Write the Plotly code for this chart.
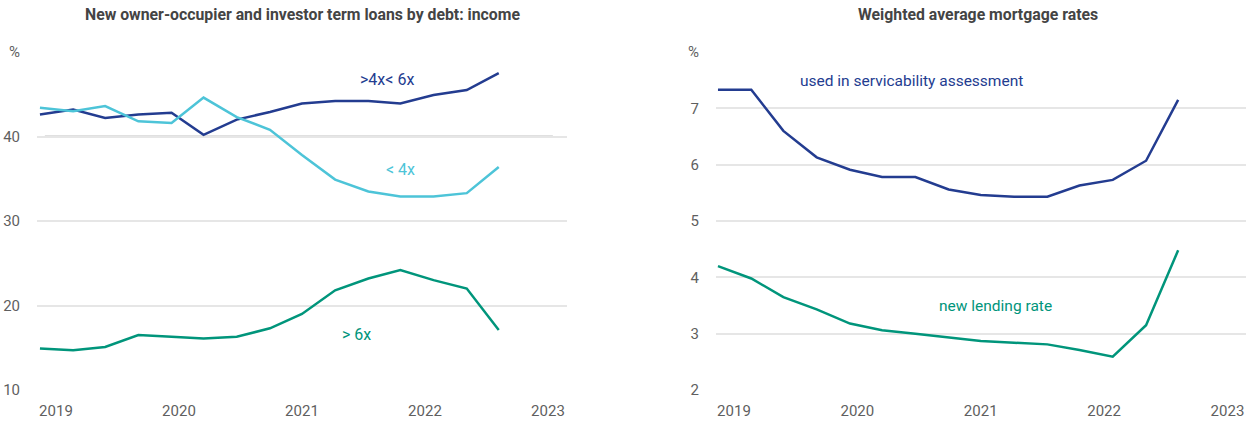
import plotly.graph_objects as go

# ---- data ----
periods = [2019.00, 2019.27, 2019.53, 2019.80, 2020.07, 2020.33, 2020.60, 2020.87,
           2021.13, 2021.40, 2021.67, 2021.93, 2022.20, 2022.47, 2022.73]

dti_4_6 = [42.6, 43.2, 42.2, 42.6, 42.8, 40.2, 42.0, 42.9, 43.9, 44.2, 44.2, 43.9, 44.9, 45.5, 47.5]
dti_lt4 = [43.4, 43.0, 43.6, 41.8, 41.6, 44.6, 42.3, 40.8, 37.8, 34.9, 33.5, 32.9, 32.9, 33.3, 36.4]
dti_gt6 = [14.9, 14.7, 15.1, 16.5, 16.3, 16.1, 16.3, 17.3, 19.0, 21.8, 23.2, 24.2, 23.0, 22.0, 17.1]

rate_serv = [7.33, 7.33, 6.60, 6.13, 5.91, 5.78, 5.78, 5.56, 5.46, 5.43, 5.43, 5.63, 5.73, 6.07, 7.15]
rate_new = [4.20, 3.98, 3.65, 3.43, 3.18, 3.06, 3.00, 2.93, 2.87, 2.84, 2.81, 2.71, 2.59, 3.15, 4.48]

years = [2019, 2020, 2021, 2022, 2023]
left_ticks = [10, 20, 30, 40, 50]
left_tick_text = ["10", "20", "30", "40", "%"]
right_ticks = [2, 3, 4, 5, 6, 7, 8]
right_tick_text = ["2", "3", "4", "5", "6", "7", "%"]

title_left = "New owner-occupier and investor term loans by debt: income"
title_right = "Weighted average mortgage rates"

# ---- style ----
DARK = "#233c90"
CYAN = "#4dc4d8"
TEAL = "#00957b"
GRID = "#e6e6e6"
TXT = "#5f5f5f"
FONT = "Liberation Sans Narrow, Arial Narrow, Roboto, sans-serif"
W, H = 1250, 421

fig = go.Figure()
fig.add_trace(go.Scatter(x=periods, y=dti_4_6, mode="lines", line=dict(color=DARK, width=2.5),
                         xaxis="x", yaxis="y", showlegend=False))
fig.add_trace(go.Scatter(x=periods, y=dti_lt4, mode="lines", line=dict(color=CYAN, width=2.5),
                         xaxis="x", yaxis="y", showlegend=False))
fig.add_trace(go.Scatter(x=periods, y=dti_gt6, mode="lines", line=dict(color=TEAL, width=2.5),
                         xaxis="x", yaxis="y", showlegend=False))
fig.add_trace(go.Scatter(x=periods, y=rate_serv, mode="lines", line=dict(color=DARK, width=2.5),
                         xaxis="x2", yaxis="y2", showlegend=False))
fig.add_trace(go.Scatter(x=periods, y=rate_new, mode="lines", line=dict(color=TEAL, width=2.5),
                         xaxis="x2", yaxis="y2", showlegend=False))

xcommon = dict(tickvals=years, ticktext=[str(y) for y in years], showgrid=False,
               zeroline=False, showline=False, ticks="", ticklabelshift=16,
               ticklabelstandoff=10,
               tickfont=dict(family=FONT, size=15, color=TXT), fixedrange=True)
ycommon = dict(showgrid=True, gridcolor=GRID, gridwidth=2, zeroline=False, showline=False,
               ticks="", ticklabelstandoff=16,
               tickfont=dict(family=FONT, size=15, color=TXT))

fig.update_layout(
    width=W, height=H,
    margin=dict(l=0, r=0, t=52, b=31, autoexpand=False),
    paper_bgcolor="white", plot_bgcolor="white",
    font=dict(family=FONT, color=TXT),
    xaxis=dict(domain=[37 / W, 567 / W], range=[2018.976, 2023.285], **xcommon),
    xaxis2=dict(domain=[716 / W, 1246 / W], range=[2018.984, 2023.28], anchor="y2", **xcommon),
    yaxis=dict(range=[10, 50], tickvals=left_ticks, ticktext=left_tick_text, anchor="x", **ycommon),
    yaxis2=dict(range=[2, 8], tickvals=right_ticks, ticktext=right_tick_text, anchor="x2", **ycommon),
)

# slightly darker reference line at 40
fig.add_shape(type="line", xref="x", yref="y", x0=2019.04, x1=2023.17, y0=40, y1=40,
              line=dict(color="#d6d6d6", width=2.5), layer="below")

# titles
fig.add_annotation(text="<b>" + title_left + "</b>", xref="paper", yref="paper",
                   x=(37 + 567) / 2 / W, y=1 + 38 / 338, xanchor="center", yanchor="middle",
                   showarrow=False, font=dict(family=FONT, size=15.8, color="#444444"))
fig.add_annotation(text="<b>" + title_right + "</b>", xref="paper", yref="paper",
                   x=978 / W, y=1 + 38 / 338, xanchor="center", yanchor="middle",
                   showarrow=False, font=dict(family=FONT, size=15.8, color="#444444"))

# series labels
lab = dict(showarrow=False, xanchor="center", yanchor="middle")
fig.add_annotation(text=">4x< 6x", x=2021.82, y=46.7, xref="x", yref="y",
                   font=dict(family=FONT, size=16, color=DARK), **lab)
fig.add_annotation(text="< 4x", x=2021.93, y=36.15, xref="x", yref="y",
                   font=dict(family=FONT, size=16, color=CYAN), **lab)
fig.add_annotation(text="> 6x", x=2021.57, y=16.6, xref="x", yref="y",
                   font=dict(family=FONT, size=16, color=TEAL), **lab)
fig.add_annotation(text="used in servicability assessment", x=2020.57, y=7.49, xref="x2", yref="y2",
                   font=dict(family=FONT, size=15.5, color=DARK), **lab)
fig.add_annotation(text="new lending rate", x=2021.25, y=3.5, xref="x2", yref="y2",
                   font=dict(family=FONT, size=15.5, color=TEAL), **lab)

fig.write_html("out.html", post_script="document.body.style.margin='0px';",
               config={"displayModeBar": False})
